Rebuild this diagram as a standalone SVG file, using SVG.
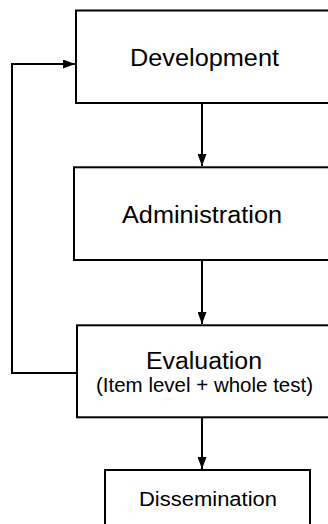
<svg xmlns="http://www.w3.org/2000/svg" width="328" height="524" viewBox="0 0 328 524">
<defs>
<marker id="arr" markerWidth="12" markerHeight="9" refX="12" refY="4.5" orient="auto" markerUnits="userSpaceOnUse">
<path d="M0,0 L12,4.5 L0,9 Z" fill="#000"/>
</marker>
<style>
.box{fill:#fff;stroke:#000;stroke-width:2}
.lbl{font-family:"Liberation Sans",Arial,sans-serif;fill:#000;text-anchor:middle}
.con{fill:none;stroke:#000;stroke-width:2;marker-end:url(#arr)}
</style>
</defs>
<rect width="328" height="524" fill="#fff"/>
<g id="connectors">
<line class="con" x1="202" y1="103" x2="202" y2="166"/>
<line class="con" x1="202" y1="260" x2="202" y2="324"/>
<line class="con" x1="202" y1="417" x2="202" y2="469"/>
<polyline class="con" points="77,373 12,373 12,64 75,64"/>
</g>
<g id="development">
<rect class="box" x="76" y="10.5" width="260" height="92.5"/>
<text class="lbl" x="204.5" y="66" font-size="23" textLength="149" lengthAdjust="spacingAndGlyphs">Development</text>
</g>
<g id="administration">
<rect class="box" x="74" y="167.3" width="262" height="92.7"/>
<text class="lbl" x="202" y="222.7" font-size="23" textLength="160" lengthAdjust="spacingAndGlyphs">Administration</text>
</g>
<g id="evaluation">
<rect class="box" x="77" y="325.3" width="260" height="92"/>
<text class="lbl" x="204" y="369" font-size="23" textLength="116" lengthAdjust="spacingAndGlyphs">Evaluation</text>
<text class="lbl" x="204.5" y="391.7" font-size="20" textLength="217" lengthAdjust="spacingAndGlyphs">(Item level + whole test)</text>
</g>
<g id="dissemination">
<rect class="box" x="105" y="470" width="205" height="70"/>
<text class="lbl" x="208" y="505.7" font-size="20" textLength="138" lengthAdjust="spacingAndGlyphs">Dissemination</text>
</g>
</svg>
